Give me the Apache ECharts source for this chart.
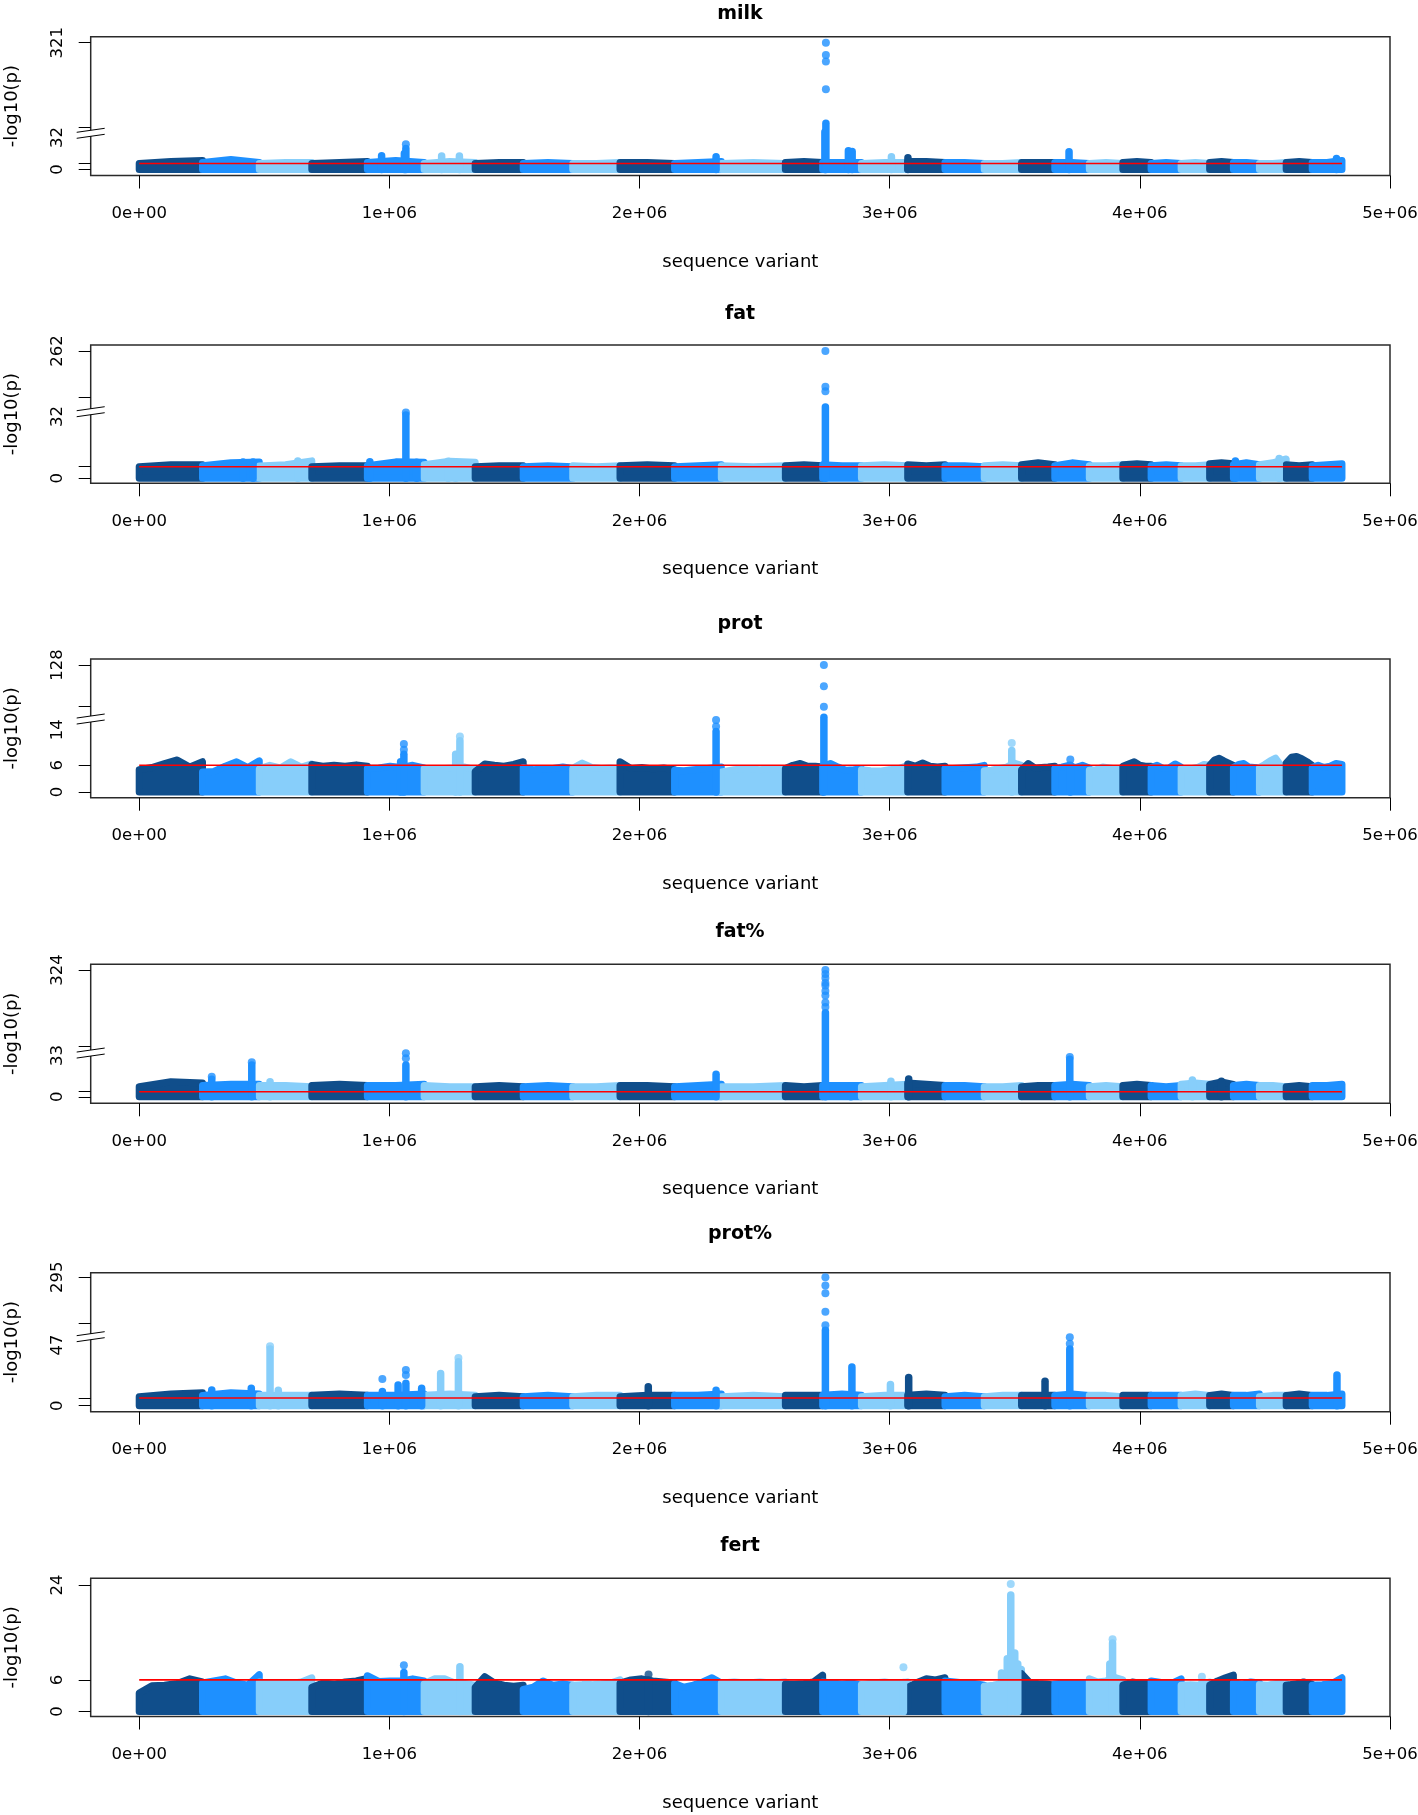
<!DOCTYPE html>
<html><head><meta charset="utf-8">
<script src="https://cdn.jsdelivr.net/npm/echarts@6/dist/echarts.min.js"></script>
<style>html,body{margin:0;padding:0;background:#fff}#c{width:1418px;height:1815px}</style>
</head><body><div id="c"></div>
<script>
// ================= DATA =================
const traitNames = ['milk', 'fat', 'prot', 'fat%', 'prot%', 'fert'];
// chromosome start positions (thousands of sequence variants), 29 autosomes
const chromStarts = [0,253,480,690,912,1139,1343,1535,1733,1922,2140,2327,2583,2732,2887,3072,3221,3378,3527,3660,3798,3932,4045,4165,4279,4374,4478,4585,4689];
const chromEnd = 4808;
const xTickValues = [0, 1e6, 2e6, 3e6, 4e6, 5e6];
const xTickLabels = ['0e+00', '1e+06', '2e+06', '3e+06', '4e+06', '5e+06'];

// y tick labels per trait
const milkYLabels = [0, 32, 321];
const fatYLabels = [0, 32, 262];
const protYLabels = [0, 6, 14, 128];
const fatPctYLabels = [0, 33, 324];
const protPctYLabels = [0, 47, 295];
const fertYLabels = [0, 6, 24];

// significance threshold (-log10 p) per trait
const thresholds = [6, 6, 6, 4.1, 6, 6];

// background band: top of the dense point cloud per chromosome (-log10 p)
const milkBand = [[6,8,9],[7,10,7],[6,7,7],[6,7,8],[7,9,7],[6,8,7],[6,7,7],[6,7,6],[6,6,7],[7,7,6],[6,7,8],[6,7,6],[7,8,7],[7,7,7],[6,7,7],[8,8,7],[7,7,6],[6,6,7],[7,7,7],[7,7,6],[6,7,6],[7,8,7],[6,7,6],[6,7,6],[7,8,7],[7,7,6],[6,6,7],[7,8,7],[7,7,9]];
const fatBand = [[6,7,7],[6.5,8,8.4],[6.3,7,9],[6,6.5,6.5],[6.5,8.5,8.3],[7,8.8,8.3],[6,6.5,6.5],[6,6.5,6],[6.5,6,6.5],[6.5,7,6.5],[6,6.5,7],[6.5,6,6.5],[6.5,7,6.5],[7,6.5,6.5],[6.5,7,6.5],[7,6.5,7],[6.5,6.5,6],[6.5,7,6.5],[7,8,7],[6.5,8,7],[6.5,6.5,7],[7,7.5,7],[6.5,7,6.5],[6.5,6.5,7],[7.5,8,7.5],[7,8,7],[7,8,10],[7,6.5,7],[6.5,7,7.5]];
const protBand = [
  [5.0,5.5,6.4,7.2,5.6,6.8],[4.5,4.6,5.8,6.8,5.5,7.0],[5.2,6.0,5.4,6.8,5.6,6.3],[6.2,5.8,6.0,5.8,6.1,5.8],
  [5.3,5.4,5.8,5.5,6.0,5.4],[5.2,5.3,5.3,5.4,5.6,5.0],[4.6,6.3,6.0,5.8,6.2,6.8],[5.5,5.0,5.2,5.3,5.6,5.3],
  [5.3,6.5,5.5,5.3,5.4,5.3],[6.8,5.3,5.5,5.2,5.4,5.0],[4.9,4.8,5.0,5.2,5.4,5.6],[4.5,5.0,5.3,5.0,5.3,5.1],
  [5.3,6.0,6.4,5.8,5.8,5.6],[5.8,6.4,5.6,4.9,5.0,5.2],[5.0,4.8,4.7,5.0,5.2,6.0],[6.3,5.8,6.5,5.8,5.6,5.8],
  [5.3,5.3,5.4,5.5,5.6,6.0],[4.8,4.9,5.3,5.6,6.5,6.0],[5.0,6.4,5.4,5.5,5.6,5.8],[5.3,5.6,6.0,5.5,6.0,5.4],
  [4.9,5.0,5.6,5.4,5.2,5.3],[5.8,6.3,6.8,6.0,5.8,5.8],[5.5,6.0,5.3,5.4,6.3,5.6],[5.3,5.2,5.3,5.6,6.2,6.0],
  [6.0,7.2,7.6,7.0,6.5,6.0],[5.5,6.2,6.4,5.6,5.5,5.4],[5.5,6.2,7.0,7.6,6.0,5.8],[6.5,7.8,8.0,7.5,6.8,6.0],
  [5.5,6.0,5.5,5.8,6.4,6.2]];
const fatPctBand = [[8,12,11],[9,10,10],[9,9,8],[9,10,9],[9,9,10],[9,8,8],[8,9,8],[8,9,8],[8,8,9],[9,9,8],[8,9,10],[8,8,9],[9,8,9],[9,9,9],[8,9,10],[11,10,9],[9,9,8],[8,8,9],[8,9,9],[9,10,9],[8,9,8],[9,10,9],[9,8,9],[10,11,10],[10,12,10],[9,10,9],[9,9,8],[8,9,8],[9,9,10]];
const protPctBand = [[7,9,10],[8,10,9],[8,8,8],[8,9,8],[8,8,9],[8,9,8],[7,8,7],[7,8,7],[7,8,8],[7,8,8],[8,8,9],[7,8,7],[8,8,8],[8,9,8],[7,8,8],[8,9,8],[7,8,7],[7,8,8],[8,8,8],[8,9,8],[8,8,7],[8,8,8],[8,8,8],[8,9,8],[8,9,8],[8,8,9],[7,8,8],[8,9,8],[8,8,9]];
const fertBand = [
  [3.5,4.9,5.0,5.3,6.2,5.6],[5.4,5.8,6.2,5.4,5.0,7.0],[5.6,5.3,5.5,5.3,5.6,6.4],[4.6,5.4,5.2,5.6,5.8,6.3],
  [6.8,5.7,5.8,5.8,6.2,5.8],[5.3,6.2,6.2,5.4,5.3,5.0],[4.6,6.6,5.4,5.0,4.8,5.0],[4.2,4.6,5.8,5.0,5.2,5.0],
  [5.0,5.1,5.1,5.2,5.4,6.0],[5.4,6.0,6.2,5.8,5.6,5.4],[5.3,4.6,5.0,5.6,6.4,5.4],[5.4,5.6,5.4,5.6,5.4,5.6],
  [5.2,5.2,5.3,5.6,6.9],[5.6,5.4,5.2,5.4,5.0],[5.1,5.4,5.6,5.3,5.6],[4.6,5.5,6.2,6.0,6.4],
  [5.8,5.6,5.4,5.3,5.0],[4.8,5.0,5.4,6.5,8.0],[7.2,5.5,5.3,5.2,5.0],[5.2,5.4,5.5,5.4,5.2],
  [6.2,5.6,5.8,6.5,6.0],[5.0,5.6,5.3,5.6],[5.8,5.5,5.3,6.2],[5.0,5.1,5.0,5.6],
  [5.0,5.8,6.4,6.9],[5.5,5.2,5.6,5.4],[5.1,5.0,5.4,5.3],[5.0,5.2,5.6,5.2],[5.0,5.1,5.3,6.4]];

// peaks: [position (thousand variants), top of dense column, [isolated points above]]
const milkPeaks = [[969,13.8,[]],[1060,16,[]],[1066,21,[25.2]],[1209,13.5,[]],[1280,13.5,[]],[2306,12.8,[]],
  [2741,40,[]],[2745,68,[175,262,282,321]],[2835,18.8,[]],[2850,18,[]],[3007,12.8,[]],[3073,11.8,[]],[3717,17.8,[]],[4786,11,[]]];
const fatPeaks = [[415,8.4,[]],[455,8.4,[]],[634,9,[]],[922,8.6,[]],[1066,32.7,[34]],[1109,8.3,[]],[1235,8.8,[]],[1265,8.3,[]],
  [2743,52,[111,128,262]],[4382,9,[]],[4557,10.3,[]]];
const protPeaks = [[1045,6.8,[]],[1058,8.5,[9.5,10.8]],[1265,8.5,[]],[1282,11.5,[12.5]],[2306,13.6,[14.7,16.2]],
  [2737,20,[42,84,128]],[3488,9.3,[11.0]],[3722,6,[7.3]]];
const fatPctPeaks = [[290,14,[16]],[450,25.4,[27.6]],[523,12,[]],[1066,25.4,[30.8,34.8]],[2306,18,[]],
  [2743,175,[195,211,235,251,270,279,296,310,324]],[2845,8.7,[]],[3005,12.5,[]],[3076,14.3,[]],[3720,30,[31.9]],[4210,13.4,[]],[4326,12.5,[]]];
const protPctPeaks = [[290,12.2,[]],[448,13.5,[]],[523,44,[46]],[556,12,[]],[972,11,[20.7]],[1035,16,[]],[1066,17.3,[23.8,27.6]],
  [1129,13.5,[]],[1205,25,[]],[1276,34,[37]],[2035,14.6,[]],[2306,12,[]],[2743,80,[100,155,230,262,295]],[2849,30,[]],
  [3003,16.4,[]],[3076,21.8,[]],[3621,19,[]],[3720,44,[48,53]],[4788,23.8,[]]];
const fertPeaks = [[1058,7.4,[8.8]],[1282,8.5,[]],[2036,6,[7.0]],[3055,5.5,[8.4]],[3447,7.3,[]],[3470,10,[]],
  [3484,22.1,[24.2]],[3500,11.1,[]],[3512,9,[]],[3880,9,[]],[3891,13,[13.7]],[4248,5.5,[6.6]]];

// ================= LAYOUT / STYLE =================
const chromColours = ['#104E8B', '#1E90FF', '#87CEFA'];
const bands = [milkBand, fatBand, protBand, fatPctBand, protPctBand, fertBand];
const peaks = [milkPeaks, fatPeaks, protPeaks, fatPctPeaks, protPctPeaks, fertPeaks];
const yLabels = [milkYLabels, fatYLabels, protYLabels, fatPctYLabels, protPctYLabels, fertYLabels];
const gridTop = [36.7, 345, 659, 964.3, 1272.7, 1578.3];
const gridBottom = [175.5, 483.3, 797.7, 1103.3, 1411.7, 1716.5];
const titleY = [12.5, 311.7, 622, 930, 1232, 1544];
// broken y axis: linear up to breakLow, compressed above it up to the top label
const breakLow = [36.2, 34.45, 16.4, 35.0, 53.45, null];
const breakTopDisp = [126.8, 65.86, 28.54, 101.4, 99.46, null];
const upperTickDisp = [41.8, 41.9, 19.33, 40.1, 63.83, null];
const yDispMin = [-6.0, -2.59, -1.28, -5.2, -4.65, -0.95];
const yDispMax = [132.8, 68.96, 29.89, 106.0, 103.0, 25.28];
const X_MIN = -193900, X_MAX = 5e6;
const FONT = 'DejaVu Sans';

function toDisp(v, p) {
  const L = breakLow[p];
  if (L == null || v <= L) return v;
  const T = yLabels[p][yLabels[p].length - 1];
  return L + (v - L) / (T - L) * (breakTopDisp[p] - L);
}
function chromOf(xk) {
  let i = 0;
  while (i + 1 < chromStarts.length && chromStarts[i + 1] <= xk) i++;
  return i;
}

const grids = [], xAxes = [], yAxes = [], series = [], titles = [];
for (let p = 0; p < 6; p++) {
  grids.push({left: 90.7, right: 28, top: gridTop[p], height: gridBottom[p] - gridTop[p],
    outerBoundsMode: 'none', containLabel: false,
    show: true, borderColor: '#2a2a2a', borderWidth: 1.5, backgroundColor: 'transparent'});
  titles.push({text: traitNames[p], left: 740, top: titleY[p] - 7.5, textAlign: 'center', padding: 0,
    textStyle: {fontSize: 19, fontWeight: 'bold', fontFamily: FONT, color: '#000'}});
  xAxes.push({type: 'value', gridIndex: p, min: X_MIN, max: X_MAX, position: 'bottom',
    axisLine: {show: false, onZero: false}, splitLine: {show: false},
    axisTick: {show: true, customValues: xTickValues, length: 13, lineStyle: {color: '#000', width: 1}},
    axisLabel: {show: true, customValues: xTickValues, margin: 29.5, fontSize: 16.5, fontFamily: FONT, color: '#000',
      formatter: v => xTickLabels[xTickValues.indexOf(v)]},
    name: 'sequence variant', nameLocation: 'middle', nameGap: 77.5,
    nameTextStyle: {fontSize: 18, fontFamily: FONT, color: '#000'}});
  const labVals = yLabels[p].map(v => toDisp(v, p));
  const tickSet = [0, thresholds[p]];
  if (breakLow[p] != null) { tickSet.push(upperTickDisp[p]); tickSet.push(breakTopDisp[p]); }
  else yLabels[p].forEach(v => tickSet.push(v));
  const ticks = [...new Set(tickSet)];
  yAxes.push({type: 'value', gridIndex: p, min: yDispMin[p], max: yDispMax[p], position: 'left',
    axisLine: {show: false, onZero: false}, splitLine: {show: false},
    axisTick: {show: true, customValues: ticks, length: 12, lineStyle: {color: '#000', width: 1}},
    axisLabel: {show: true, customValues: labVals, rotate: 90, margin: 24, fontSize: 16.5, fontFamily: FONT, color: '#000',
      formatter: v => { const k = labVals.findIndex(d => Math.abs(d - v) < 1e-6); return k >= 0 ? String(yLabels[p][k]) : ''; }},
    name: '-log10(p)', nameLocation: 'middle', nameGap: 69,
    nameTextStyle: {fontSize: 18, fontFamily: FONT, color: '#000'}});

  // dense background bands, one polygon per chromosome
  series.push({type: 'custom', xAxisIndex: p, yAxisIndex: p, z: 2, silent: true,
    data: chromStarts.map((s, i) => [s * 1000, 0, i]),
    renderItem: (params, api) => {
      const i = params.dataIndex;
      const s = chromStarts[i] * 1000;
      const e = (i + 1 < chromStarts.length ? chromStarts[i + 1] : chromEnd) * 1000;
      const prof = bands[p][i];
      const pts = [api.coord([s, 0])];
      prof.forEach((v, j) => pts.push(api.coord([s + (e - s) * j / (prof.length - 1), toDisp(v, p)])));
      pts.push(api.coord([e, 0]));
      const col = chromColours[i % 3];
      return {type: 'polygon', shape: {points: pts}, style: {fill: col, stroke: col, lineWidth: 7, lineJoin: 'round'}};
    }});
  // dense peak columns
  series.push({type: 'custom', xAxisIndex: p, yAxisIndex: p, z: 3, silent: true,
    data: peaks[p].map(pk => [pk[0] * 1000, toDisp(pk[1], p), chromOf(pk[0])]),
    renderItem: (params, api) => {
      const a = api.coord([api.value(0), 0]);
      const b = api.coord([api.value(0), api.value(1)]);
      return {type: 'line', shape: {x1: a[0], y1: a[1], x2: b[0], y2: b[1]},
        style: {stroke: chromColours[api.value(2) % 3], lineWidth: 7.5, lineCap: 'round'}};
    }});
  // isolated strong-association points
  const dots = [];
  peaks[p].forEach(pk => pk[2].forEach(v => dots.push({value: [pk[0] * 1000, toDisp(v, p)],
    itemStyle: {color: chromColours[chromOf(pk[0]) % 3]}})));
  series.push({type: 'scatter', xAxisIndex: p, yAxisIndex: p, z: 4, silent: true,
    symbol: 'circle', symbolSize: 8, data: dots});
  // threshold line
  series.push({type: 'line', xAxisIndex: p, yAxisIndex: p, z: 5, silent: true, symbol: 'none',
    lineStyle: {color: '#FF0000', width: 1.6},
    data: [[0, thresholds[p]], [chromEnd * 1000, thresholds[p]]]});
  // axis break glyph
  if (breakLow[p] != null) {
    series.push({type: 'custom', xAxisIndex: p, yAxisIndex: p, z: 10, silent: true, clip: false,
      data: [[X_MIN, breakLow[p]]],
      renderItem: (params, api) => {
        const c = api.coord([api.value(0), api.value(1)]);
        const x = c[0], y = c[1];
        return {type: 'group', children: [
          {type: 'polygon', shape: {points: [[x - 14, y - 1], [x + 14, y - 5], [x + 14, y + 1], [x - 14, y + 5]]},
            style: {fill: '#fff', stroke: null}},
          {type: 'line', shape: {x1: x - 14, y1: y - 1, x2: x + 14, y2: y - 5}, style: {stroke: '#000', lineWidth: 1}},
          {type: 'line', shape: {x1: x - 14, y1: y + 5, x2: x + 14, y2: y + 1}, style: {stroke: '#000', lineWidth: 1}}
        ]};
      }});
  }
}

const chart = echarts.init(document.getElementById('c'), null, {renderer: 'canvas'});
chart.setOption({animation: false, backgroundColor: '#fff', title: titles,
  grid: grids, xAxis: xAxes, yAxis: yAxes, series: series});
</script></body></html>
